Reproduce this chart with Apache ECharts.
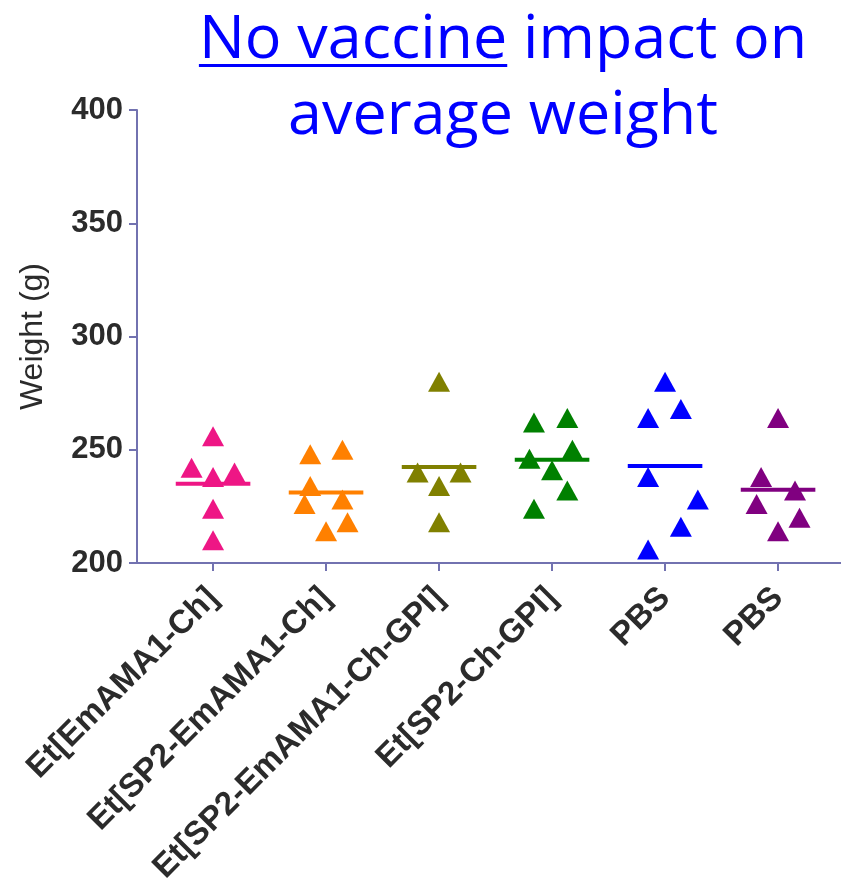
<!DOCTYPE html>
<html>
<head>
<meta charset="utf-8">
<script src="https://cdn.jsdelivr.net/npm/echarts@6/dist/echarts.min.js"></script>
<style>
  html, body { margin: 0; padding: 0; background: #fff; }
  #wrap { position: relative; width: 841px; height: 880px; }
  #chart { position: absolute; left: 0; top: 0; width: 841px; height: 880px; }
  #title {
    position: absolute; left: 166px; top: -3px; width: 674px;
    text-align: center; color: #0000ff;
    font-family: "Open Sans", "Noto Sans", sans-serif;
    font-size: 61px; line-height: 76px; white-space: nowrap;
  }
  #title u { text-decoration-thickness: 3px; text-underline-offset: 6px; }
</style>
</head>
<body>
<div id="wrap">
  <div id="chart"></div>
  <div id="title"><u>No vaccine</u> impact on<br>average weight</div>
</div>
<script>
// Group names shown under the x axis
const groups = ['Et[EmAMA1-Ch]', 'Et[SP2-EmAMA1-Ch]', 'Et[SP2-EmAMA1-Ch-GPI]', 'Et[SP2-Ch-GPI]', 'PBS', 'PBS'];
const groupColors = ['#ee1685', '#ff8000', '#808000', '#008000', '#0000ff', '#800080'];

// Individual body weights (g) per group
const weightsEmAMA1Ch      = [256, 242, 238, 240, 224, 210];
const weightsSP2EmAMA1Ch   = [248, 250, 234, 226, 228, 218, 214];
const weightsSP2EmAMA1GPI  = [280, 240, 240, 234, 218];
const weightsSP2ChGPI      = [262, 264, 246, 250, 241, 232, 224];
const weightsPBS1          = [280, 268, 264, 238, 228, 216, 206];
const weightsPBS2          = [264, 238, 232, 226, 220, 214];

// Horizontal scatter spread of each animal within its group (category units)
const spreadEmAMA1Ch     = [0, -0.19, 0, 0.19, 0, 0];
const spreadSP2EmAMA1Ch  = [-0.14, 0.145, -0.14, -0.19, 0.145, 0.19, 0];
const spreadSP2EmAMA1GPI = [0, -0.19, 0.19, 0, 0];
const spreadSP2ChGPI     = [-0.16, 0.135, -0.2, 0.18, 0, 0.135, -0.16];
const spreadPBS1         = [0, 0.14, -0.15, -0.15, 0.29, 0.14, -0.15];
const spreadPBS2         = [0, -0.15, 0.15, -0.19, 0.19, 0];

// Y axis ticks
const yMin = 200, yMax = 400, yStep = 50;

const allWeights = [weightsEmAMA1Ch, weightsSP2EmAMA1Ch, weightsSP2EmAMA1GPI, weightsSP2ChGPI, weightsPBS1, weightsPBS2];
const allSpread  = [spreadEmAMA1Ch, spreadSP2EmAMA1Ch, spreadSP2EmAMA1GPI, spreadSP2ChGPI, spreadPBS1, spreadPBS2];

const axisColor = '#7272b0';
const meanHalfWidth = 0.33;

const series = [];
allWeights.forEach(function (w, gi) {
  const mean = w.reduce(function (a, b) { return a + b; }, 0) / w.length;
  // group mean bar
  series.push({
    type: 'line',
    z: 2,
    silent: true,
    showSymbol: false,
    symbol: 'none',
    lineStyle: { color: groupColors[gi], width: 4 },
    data: [[gi - meanHalfWidth, mean], [gi + meanHalfWidth, mean]]
  });
  // individual animals
  series.push({
    type: 'scatter',
    z: 3,
    symbol: 'triangle',
    symbolSize: [22, 20],
    itemStyle: { color: groupColors[gi], opacity: 1 },
    data: w.map(function (v, k) { return [gi + allSpread[gi][k], v]; })
  });
});

const tickPositions = groups.map(function (_, i) { return i; });

const chart = echarts.init(document.getElementById('chart'), null, { renderer: 'canvas' });
chart.setOption({
  animation: false,
  backgroundColor: '#ffffff',
  grid: { left: 137, right: 0, top: 110, bottom: 317, containLabel: false, outerBoundsMode: 'none' },
  xAxis: {
    type: 'value',
    min: -0.673,
    max: 5.557,
    axisLine: { show: true, onZero: false, lineStyle: { color: axisColor, width: 2 } },
    axisTick: { show: true, customValues: tickPositions, length: 8, lineStyle: { color: axisColor, width: 2 } },
    splitLine: { show: false },
    axisLabel: {
      customValues: tickPositions,
      formatter: function (v) { return groups[Math.round(v)]; },
      rotate: 45,
      margin: 30,
      color: '#2b2b2b',
      fontFamily: 'Liberation Sans, Arial, sans-serif',
      fontWeight: 'bold',
      fontSize: 33
    }
  },
  yAxis: {
    type: 'value',
    min: yMin,
    max: yMax,
    interval: yStep,
    name: 'Weight (g)',
    nameLocation: 'middle',
    nameGap: 88,
    nameTextStyle: {
      color: '#2b2b2b',
      fontFamily: 'Liberation Sans, Arial, sans-serif',
      fontSize: 32
    },
    axisLine: { show: true, onZero: false, lineStyle: { color: axisColor, width: 2 } },
    axisTick: { show: true, length: 8, lineStyle: { color: axisColor, width: 2 } },
    splitLine: { show: false },
    axisLabel: {
      margin: 14,
      color: '#2b2b2b',
      fontFamily: 'Liberation Sans, Arial, sans-serif',
      fontWeight: 'bold',
      fontSize: 31
    }
  },
  series: series
});
</script>
</body>
</html>
